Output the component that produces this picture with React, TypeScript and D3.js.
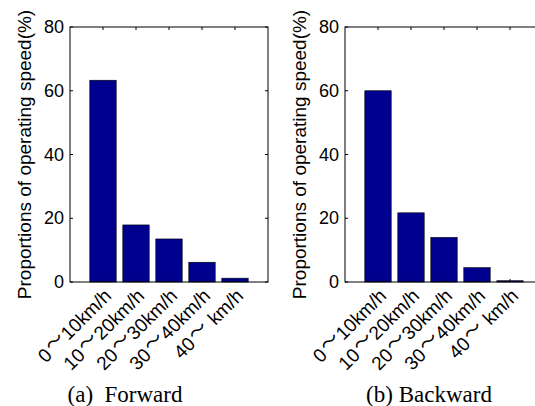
import React from "react";
import * as d3 from "d3";

const categoryStarts = ["0", "10", "20", "30", "40"];
const categoryEnds = ["10km/h", "20km/h", "30km/h", "40km/h", " km/h"];
const forwardValues = [63.3, 17.9, 13.5, 6.2, 1.2];
const backwardValues = [60.0, 21.7, 14.0, 4.5, 0.4];
const yTicks = [0, 20, 40, 60, 80];
const captions = ["(a)  Forward", "(b) Backward"];
const yLabel = "Proportions of operating speed(%)";

const W = 535;
const H = 406;
const AX_W = 198;
const AX_H = 255;
const SANS = "Liberation Sans, Arial, sans-serif";
const SERIF = "Liberation Serif, Times New Roman, serif";
const CJK = "Noto Sans CJK SC, sans-serif";
const BAR_FILL = "#00008f";

function Panel({ x0, y0, values, caption, captionX }: { x0: number; y0: number; values: number[]; caption: string; captionX: number }) {
  const x = d3.scaleLinear().domain([0, categoryStarts.length + 1]).range([0, AX_W]);
  const y = d3.scaleLinear().domain([0, 80]).range([AX_H, 0]);
  const bw = x(0.8) - x(0);
  const tick = 3;
  return (
    <g>
      <g transform={`translate(${x0},${y0})`}>
        <rect x={0} y={0} width={AX_W} height={AX_H} fill="#fff" />
        {values.map((v, i) => (
          <rect key={i} x={x(i + 1) - bw / 2} y={y(v)} width={bw} height={AX_H - y(v)} fill={BAR_FILL} stroke="#000" strokeWidth={0.6} />
        ))}
        <rect x={0} y={0} width={AX_W} height={AX_H} fill="none" stroke="#000" strokeWidth={1} />
        {yTicks.map((t) => (
          <g key={t}>
            <line x1={0} x2={tick} y1={y(t)} y2={y(t)} stroke="#000" />
            <line x1={AX_W} x2={AX_W - tick} y1={y(t)} y2={y(t)} stroke="#000" />
            <text x={-6} y={y(t)} textAnchor="end" dominantBaseline="central" fontFamily={SANS} fontSize={18} fill="#000">{t}</text>
          </g>
        ))}
        {categoryStarts.map((c, i) => (
          <g key={c}>
            <line x1={x(i + 1)} x2={x(i + 1)} y1={0} y2={tick} stroke="#000" />
            <line x1={x(i + 1)} x2={x(i + 1)} y1={AX_H} y2={AX_H - tick} stroke="#000" />
            <text transform={`translate(${x(i + 1) + 9.5},${AX_H + 15}) rotate(-45)`} textAnchor="end" fontFamily={SANS} fontSize={19} fill="#000" style={{ whiteSpace: "pre" }}>
              {c}
              <tspan fontFamily={CJK} fontSize={19} dx={1.5} dy={-3}>～</tspan>
              <tspan dx={1} dy={3}>{categoryEnds[i]}</tspan>
            </text>
          </g>
        ))}
        <text transform={`translate(${-46},${AX_H / 2}) rotate(-90)`} textAnchor="middle" dominantBaseline="central" fontFamily={SANS} fontSize={19} fill="#000">{yLabel}</text>
      </g>
      <text x={captionX} y={402} textAnchor="middle" fontFamily={SERIF} fontSize={23} fill="#000" style={{ whiteSpace: "pre" }}>{caption}</text>
    </g>
  );
}

export default function App() {
  return (
    <svg width={W} height={H} style={{ position: "absolute", left: 0, top: 0, background: "#fff" }}>
      <rect width={W} height={H} fill="#fff" />
      <Panel x0={70} y0={27} values={forwardValues} caption={captions[0]} captionX={125} />
      <Panel x0={345} y0={27} values={backwardValues} caption={captions[1]} captionX={429} />
    </svg>
  );
}
